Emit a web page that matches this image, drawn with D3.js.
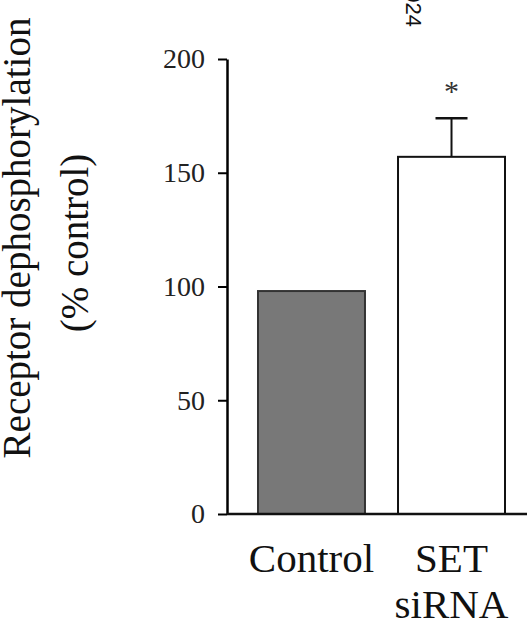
<!DOCTYPE html>
<html>
<head>
<meta charset="utf-8">
<script src="https://cdn.jsdelivr.net/npm/d3@7"></script>
<style>
  body { margin: 0; background: #fff; }
  svg { display: block; }
</style>
</head>
<body>
<svg id="chart"></svg>
<script>
const categories = ["Control", "SET siRNA"];
const values = [98, 157];
const errors = [0, 17];
const significance = ["", "*"];
const yTicks = [0, 50, 100, 150, 200];

class BarChart {

    constructor( config, inputdata ) {
        this.config = {
            parent: config.parent,
            width: config.width || 527,
            height: config.height || 625,
            margin: config.margin || {top:59, right:0, bottom:111, left:227}
        }
        this.inputdata = inputdata;
        this.init();
    }

    init() {
        let self = this;

        self.svg = d3.select( self.config.parent )
            .attr('width', self.config.width)
            .attr('height', self.config.height);

        self.inner_width = self.config.width - self.config.margin.left - self.config.margin.right;
        self.inner_height = self.config.height - self.config.margin.top - self.config.margin.bottom;

        self.chart = self.svg.append('g')
            .attr('transform', `translate(${self.config.margin.left}, ${self.config.margin.top})`);

        self.label = self.svg.append('g');

        self.xscale = d3.scaleBand()
            .range( [3, 306] )
            .paddingInner(0.236)
            .paddingOuter(0.2);

        self.yscale = d3.scaleLinear()
            .domain( [0, 200] )
            .range( [self.inner_height, 0] );

        self.yaxis = d3.axisLeft( self.yscale )
            .tickValues( yTicks )
            .tickSize(9)
            .tickPadding(13)
            .tickSizeOuter(0);

        self.yaxis_group = self.chart.append('g');
    }

    update() {
        let self = this;
        self.xscale.domain( self.inputdata.map(d => d.category) );
        self.render();
    }

    render() {
        let self = this;
        const serif = "'Liberation Serif', 'Times New Roman', serif";

        // bars
        self.chart.selectAll("rect")
            .data(self.inputdata)
            .enter()
            .append("rect")
            .attr("x", d => self.xscale(d.category))
            .attr("y", d => self.yscale(d.value))
            .attr("width", self.xscale.bandwidth())
            .attr("height", d => self.yscale(0) - self.yscale(d.value))
            .attr("fill", (d, i) => i == 0 ? "#787878" : "#ffffff")
            .attr("stroke", (d, i) => i == 0 ? "#333" : "#111")
            .attr("stroke-width", 2);

        // error bars (upper only)
        const withErr = self.inputdata.filter(d => d.error > 0);
        const cx = d => self.xscale(d.category) + self.xscale.bandwidth()/2;

        self.chart.selectAll(".err")
            .data(withErr)
            .enter()
            .append("line")
            .attr("class", "err")
            .attr("x1", cx).attr("x2", cx)
            .attr("y1", d => self.yscale(d.value))
            .attr("y2", d => self.yscale(d.value + d.error))
            .attr("stroke", "#111")
            .attr("stroke-width", 2);

        self.chart.selectAll(".cap")
            .data(withErr)
            .enter()
            .append("line")
            .attr("class", "cap")
            .attr("x1", d => cx(d) - 16).attr("x2", d => cx(d) + 16)
            .attr("y1", d => self.yscale(d.value + d.error))
            .attr("y2", d => self.yscale(d.value + d.error))
            .attr("stroke", "#111")
            .attr("stroke-width", 2.5);

        self.chart.selectAll(".sig")
            .data(self.inputdata.filter(d => d.sig))
            .enter()
            .append("text")
            .attr("class", "sig")
            .attr("x", cx)
            .attr("y", d => self.yscale(d.value + d.error) - 17)
            .attr("text-anchor", "middle")
            .style("font-family", serif)
            .style("font-size", "30px")
            .attr("fill", "#333")
            .text(d => d.sig);

        // axes
        self.yaxis_group.call( self.yaxis );
        self.yaxis_group.select(".domain")
            .attr("stroke-width", 2.5);
        self.yaxis_group.selectAll(".tick line")
            .attr("stroke-width", 2);
        self.yaxis_group.selectAll(".tick text")
            .style("font-family", serif)
            .style("font-size", "28px")
            .attr("fill", "#222");

        self.chart.append("line")
            .attr("x1", 0)
            .attr("x2", self.inner_width)
            .attr("y1", self.yscale(0))
            .attr("y2", self.yscale(0))
            .attr("stroke", "#111")
            .attr("stroke-width", 2.5);

        // category labels
        const catLines = self.chart.selectAll(".cat")
            .data(self.inputdata)
            .enter()
            .append("text")
            .attr("class", "cat")
            .attr("x", cx)
            .attr("y", self.yscale(0) + 58)
            .attr("text-anchor", "middle")
            .style("font-family", serif)
            .style("font-size", "41px")
            .attr("fill", "#111");

        catLines.selectAll("tspan")
            .data(d => d.category.split(" "))
            .enter()
            .append("tspan")
            .attr("x", function() { return d3.select(this.parentNode).attr("x"); })
            .attr("dy", (d, i) => i == 0 ? 0 : 46)
            .text(d => d);

        // y labels
        self.label.append("text")
            .attr("fill", "#111")
            .attr("transform", "translate(30, 238) rotate(-90)")
            .attr("text-anchor", "middle")
            .style("font-family", serif)
            .style("font-size", "39px")
            .text("Receptor dephosphorylation");

        self.label.append("text")
            .attr("fill", "#111")
            .attr("transform", "translate(88, 243) rotate(-90)")
            .attr("text-anchor", "middle")
            .style("font-family", serif)
            .style("font-size", "39px")
            .text("(% control)");

        // clipped page stamp at the top
        self.label.append("text")
            .attr("fill", "#111")
            .attr("transform", "translate(406, 27) rotate(90)")
            .attr("text-anchor", "end")
            .style("font-family", "'Liberation Sans', Arial, sans-serif")
            .style("font-size", "22px")
            .text("2024");
    }
}

const inputdata = categories.map((c, i) => ({
    category: c, value: values[i], error: errors[i], sig: significance[i]
}));

const chart = new BarChart({ parent: "#chart" }, inputdata);
chart.update();
</script>
</body>
</html>
